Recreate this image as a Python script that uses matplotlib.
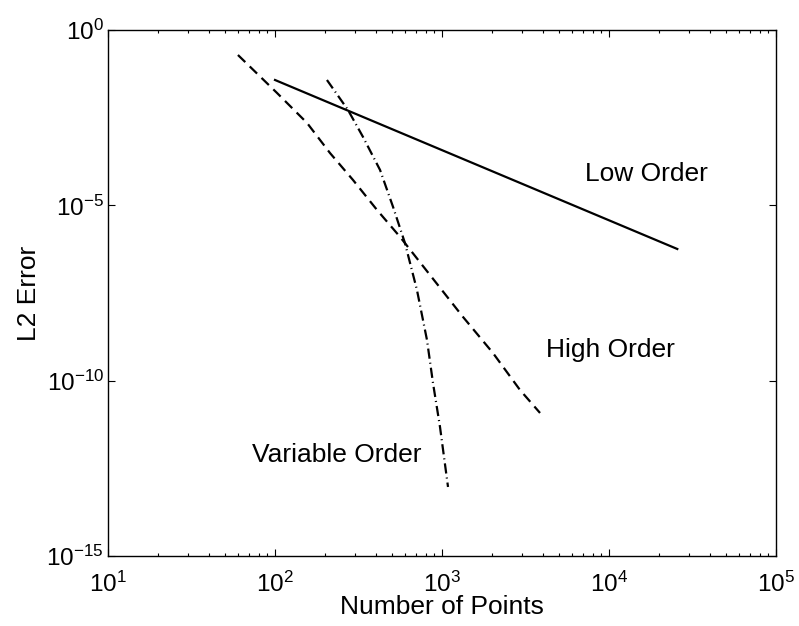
import matplotlib
matplotlib.use("Agg")
import matplotlib.pyplot as plt
from matplotlib.ticker import LogLocator, NullLocator, FixedLocator

plt.rcParams['font.family'] = ['Liberation Sans', 'DejaVu Sans']
plt.rcParams['mathtext.fontset'] = 'custom'
plt.rcParams['mathtext.rm'] = 'Liberation Sans'
plt.rcParams['mathtext.it'] = 'Liberation Sans:italic'
plt.rcParams['mathtext.bf'] = 'Liberation Sans:bold'

# Data (log10 values)
low_logn = [2.0, 4.409]
low_logerr = [-1.426, -6.245]

high_logn = [1.778, 2.012, 2.192, 2.329, 2.467, 2.611, 2.749, 2.928, 3.126, 3.305, 3.467, 3.587]
high_logerr = [-0.713, -1.796, -2.652, -3.507, -4.277, -5.133, -5.902, -6.986, -8.184, -9.210, -10.265, -10.921]

var_logn = [2.311, 2.437, 2.527, 2.629, 2.707, 2.778, 2.850, 2.910, 2.946, 2.988, 3.036]
var_logerr = [-1.426, -2.281, -3.051, -3.992, -5.047, -6.074, -7.414, -8.840, -10.066, -11.320, -13.031]

labels = ['Low Order', 'High Order', 'Variable Order']
label_logn = [4.225, 4.006, 2.371]
label_logerr = [-4.306, -9.324, -12.32]

yticks = [1e-15, 1e-10, 1e-5, 1e0]

fig = plt.figure(figsize=(7.99, 6.26), dpi=100)
ax = fig.add_axes([0.1352, 0.1118, 0.8360, 0.8403])

def p(v):
    return [10 ** x for x in v]

ax.loglog(p(low_logn), p(low_logerr), color='black', linewidth=1.6, linestyle='-')
ax.loglog(p(high_logn), p(high_logerr), color='black', linewidth=1.6, linestyle=(0, (4.6, 2.8)))
ax.loglog(p(var_logn), p(var_logerr), color='black', linewidth=1.6, linestyle=(0, (4.6, 1.8, 0.5, 1.8)))

ax.set_xlim(10, 1e5)
ax.set_ylim(1e-15, 1)
ax.xaxis.set_major_locator(LogLocator(base=10, numticks=10))
ax.xaxis.set_minor_locator(LogLocator(base=10, subs=[2, 3, 4, 5, 6, 7, 8, 9], numticks=20))
ax.yaxis.set_major_locator(FixedLocator(yticks))
ax.yaxis.set_minor_locator(NullLocator())
ax.tick_params(which='major', direction='in', top=True, right=True, length=5, width=0.8)
ax.tick_params(which='minor', direction='in', top=True, right=True, length=2.5, width=0.8)
ax.tick_params(axis='x', which='major', labelsize=17.5, pad=11)
ax.tick_params(axis='y', which='major', labelsize=17.5, pad=3)
for s in ax.spines.values():
    s.set_linewidth(1.0)

ax.set_xlabel('Number of Points', fontsize=19, labelpad=-1)
ax.set_ylabel('L2 Error', fontsize=19, labelpad=4)

for t, lx, ly in zip(labels, label_logn, label_logerr):
    ax.text(10 ** lx, 10 ** ly, t, fontsize=19, ha='center', va='baseline')

fig.savefig('out.png', dpi=100)
